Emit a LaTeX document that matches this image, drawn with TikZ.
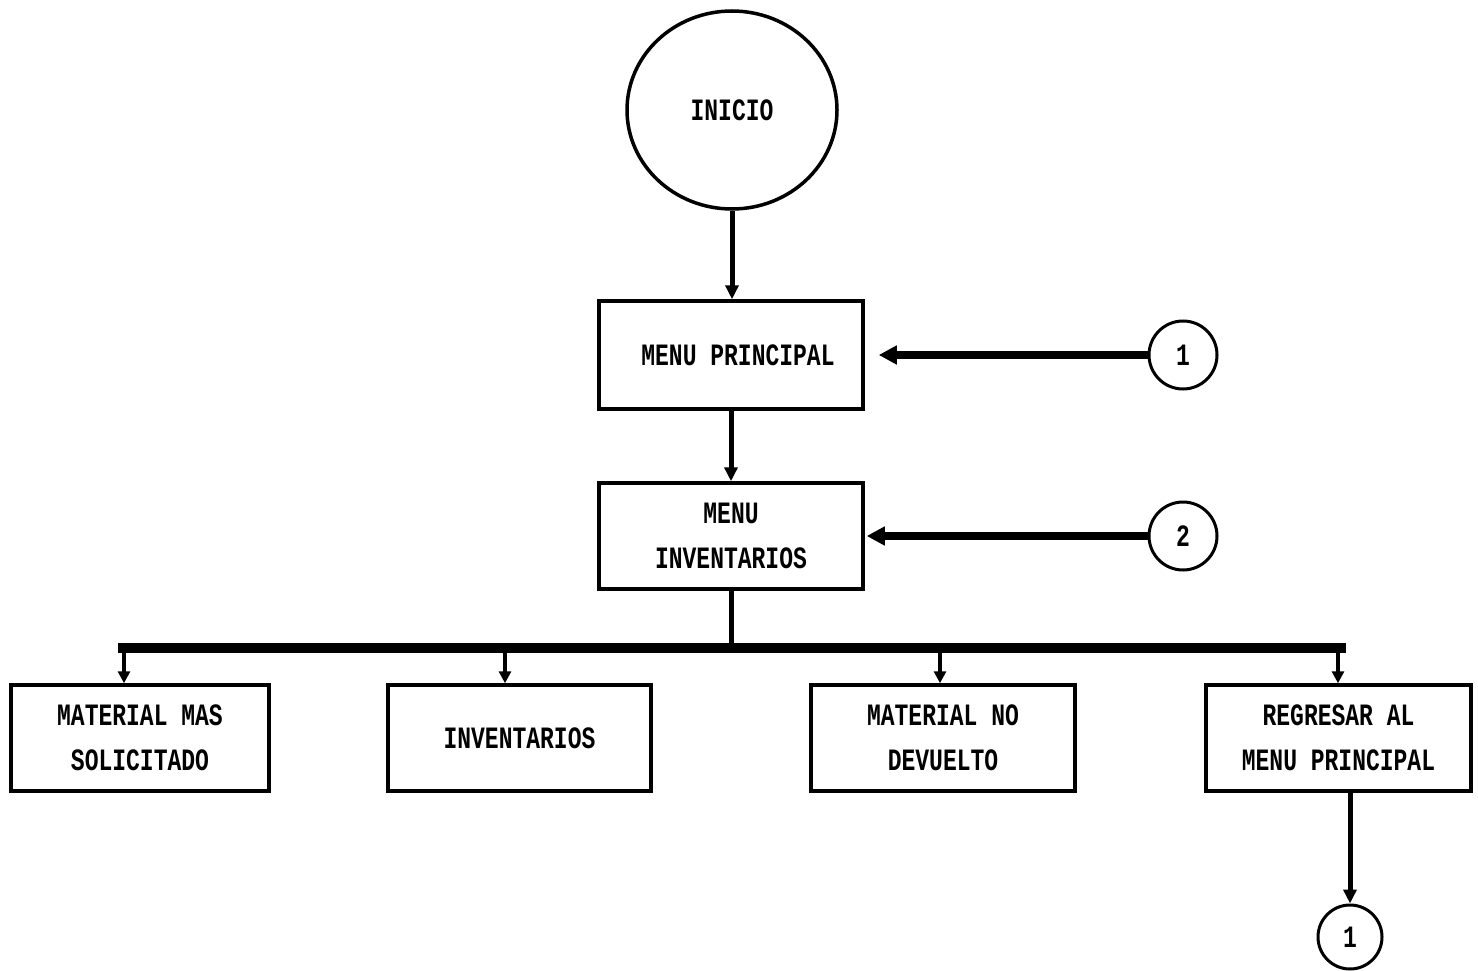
\documentclass[tikz,border=0pt]{standalone}
\usepackage{fontspec}
\setmainfont{Liberation Mono}
\usetikzlibrary{shapes.geometric,arrows.meta}
\newcommand\tl[1]{\scalebox{1}[1.35]{#1}}
\begin{document}
\begin{tikzpicture}[x=1pt,y=-1pt,
  every node/.style={font=\fontsize{23}{45}\selectfont\bfseries},
  boxnode/.style={draw,line width=3.5pt,rectangle,align=center,inner sep=0pt},
  conn/.style={draw,line width=3pt,circle,inner sep=0pt},
  flow/.style={line width=5pt,-{Triangle[width=13pt,length=14pt]}},
  drop/.style={line width=4pt,-{Triangle[width=12pt,length=12pt]}},
  heavy/.style={line width=8pt,-{Triangle[width=18pt,length=18pt]}},
]
\useasboundingbox (0,0) rectangle (1478,971);
\fill[white] (0,0) rectangle (1478,971);

\node[ellipse,draw,line width=3.5pt,minimum width=210pt,minimum height=198pt,inner sep=0pt] (inicio) at (732,110) {\tl{INICIO}};
\node[boxnode,minimum width=264pt,minimum height=108pt] (mp) at (731,355) {\hspace*{14pt}\tl{MENU PRINCIPAL}};
\node[boxnode,minimum width=264pt,minimum height=106pt] (mi) at (731,536) {\tl{MENU}\\\tl{INVENTARIOS}};
\node[conn,minimum size=68pt] (c1) at (1183,355) {\tl{1}};
\node[conn,minimum size=68pt] (c2) at (1183,536) {\tl{2}};

\node[boxnode,minimum width=258pt,minimum height=106pt] (b1) at (140,738) {\tl{MATERIAL MAS}\\\tl{SOLICITADO}};
\node[boxnode,minimum width=263pt,minimum height=106pt] (b2) at (519.5,738) {\tl{INVENTARIOS}};
\node[boxnode,minimum width=264pt,minimum height=106pt] (b3) at (943,738) {\tl{MATERIAL NO}\\\tl{DEVUELTO}};
\node[boxnode,minimum width=265pt,minimum height=106pt] (b4) at (1338.5,738) {\tl{REGRESAR AL}\\\tl{MENU PRINCIPAL}};
\node[conn,minimum size=64pt] (c3) at (1350,937) {\tl{1}};

\coordinate (busL) at (118,648);
\coordinate (busR) at (1346,648);
\coordinate (d1) at (124,648);
\coordinate (d2) at (505,648);
\coordinate (d3) at (940,648);
\coordinate (d4) at (1338,648);

\draw[flow] (inicio.south) -- (inicio.south |- mp.north);
\draw[flow] (mp.south) -- (mi.north);
\draw[heavy,shorten >=14pt] (c1.west) -- (mp.east);
\draw[heavy,shorten >=2pt] (c2.west) -- (mi.east);
\draw[line width=5pt] (mi.south) -- (mi.south |- busL);
\draw[line width=10pt] (busL) -- (busR);
\draw[drop] (d1) -- (d1 |- b1.north);
\draw[drop] (d2) -- (d2 |- b2.north);
\draw[drop] (d3) -- (d3 |- b3.north);
\draw[drop] (d4) -- (d4 |- b4.north);
\draw[flow] (b4.south -| c3) -- (c3.north);
\end{tikzpicture}
\end{document}
